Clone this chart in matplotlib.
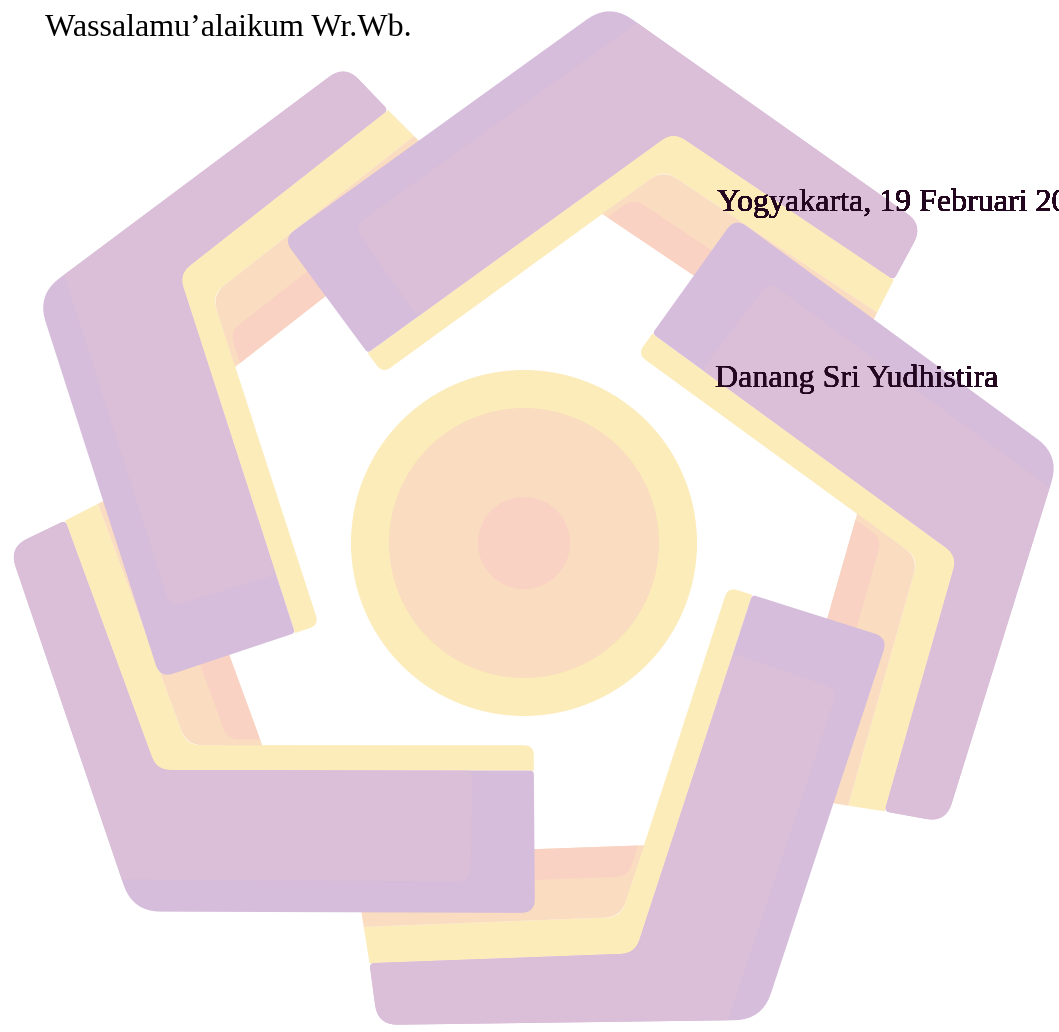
import numpy as np
import matplotlib.pyplot as plt
from matplotlib.patches import Polygon, Circle

# page text: (x, baseline y, string)
texts = [
    (45, 36, "Wassalamu\u2019alaikum Wr.Wb."),
    (717, 211, "Yogyakarta, 19 Februari 20"),
    (715, 387, "Danang Sri Yudhistira"),
]

# watermark logo, pixel coords of the upper-left arm, the other four are rotations
center = (524, 543)
arm_angles = [0, 72, 144, 216, 288]
arm_shift = [(0, 0), (0, 0), (-4, -2), (-10, -10), (-5, -18)]

arm_outline = [(37, 295), (345, 65), (388, 110), (179, 274), (295, 633), (160, 678)]
arm_outline_r = [28, 20, 5, 14, 4, 14]
arm_pink = [(64, 275), (345, 65), (388, 110), (179, 274), (276, 575), (170, 607)]
arm_pink_r = [0, 20, 5, 14, 6, 12]
band_yellow = [(388, 110), (414, 136), (212, 295), (319, 625), (295, 633), (179, 274)]
band_yellow_r = [0, 0, 14, 10, 0, 0]
band_peach = [(212, 295), (414, 136), (465, 187), (235, 367)]
band_peach_r = [16, 0, 0, 0]
band_salmon = [(230, 332), (443, 165), (465, 187), (240, 363)]
band_salmon_r = [12, 0, 0, 0]

ring_radii = [173, 135, 46]

PINK = '#dbbed7'
LAVENDER = '#d5bddb'
YELLOW = '#fcecb9'
PEACH = '#fadcc0'
SALMON = '#f9d2c4'
ring_colors = [YELLOW, PEACH, SALMON]
ALPHA = 0.28  # watermark opacity, used to tint the text under it


def rounded(pts, radii, n=10):
    pts = np.asarray(pts, float)
    out = []
    m = len(pts)
    for i in range(m):
        p, a, b = pts[i], pts[i - 1], pts[(i + 1) % m]
        r = radii[i]
        if r <= 0:
            out.append(p)
            continue
        la, lb = np.linalg.norm(a - p), np.linalg.norm(b - p)
        r = min(r, 0.45 * la, 0.45 * lb)
        p1 = p + (a - p) / la * r
        p2 = p + (b - p) / lb * r
        t = np.linspace(0, 1, n)[:, None]
        out.extend((1 - t) ** 2 * p1 + 2 * (1 - t) * t * p + t ** 2 * p2)
    return np.array(out)


def rotate(pts, ang, shift):
    a = np.radians(ang)
    rm = np.array([[np.cos(a), -np.sin(a)], [np.sin(a), np.cos(a)]])
    return (pts - center) @ rm.T + center + np.asarray(shift)


def tint(color):
    rgb = np.array(plt.matplotlib.colors.to_rgb(color))
    return tuple(np.clip(rgb - (1 - ALPHA), 0, 1))


fig = plt.figure(figsize=(10.59, 10.32), dpi=100)
ax = fig.add_axes([0, 0, 1, 1])
ax.set_xlim(0, 1059)
ax.set_ylim(1032, 0)
ax.axis('off')

font = dict(family='Liberation Serif', fontsize=23, va='baseline', ha='left')
for x, y, s in texts:
    ax.text(x, y, s, color='black', zorder=0.5, **font)

z = [1]


def add_shape(patch, color):
    patch.set_facecolor(color)
    patch.set_edgecolor('none')
    patch.set_zorder(z[0])
    ax.add_patch(patch)
    # copy of the text seen through the watermark
    for x, y, s in texts[1:]:
        t = ax.text(x, y, s, color=tint(color), zorder=z[0] + 0.5,
                    clip_on=True, **font)
        t.set_clip_path(patch)
    z[0] += 1


for r, c in zip(ring_radii, ring_colors):
    add_shape(Circle(center, r), c)

bands = [(band_yellow, band_yellow_r, YELLOW),
         (band_peach, band_peach_r, PEACH),
         (band_salmon, band_salmon_r, SALMON)]
for ang, sh in zip(arm_angles, arm_shift):
    for pts, rr, c in bands:
        add_shape(Polygon(rotate(rounded(pts, rr), ang, sh)), c)

for ang, sh in zip(arm_angles, arm_shift):
    add_shape(Polygon(rotate(rounded(arm_outline, arm_outline_r), ang, sh)), LAVENDER)
    add_shape(Polygon(rotate(rounded(arm_pink, arm_pink_r), ang, sh)), PINK)

fig.savefig('out.png', dpi=100, facecolor='white')
